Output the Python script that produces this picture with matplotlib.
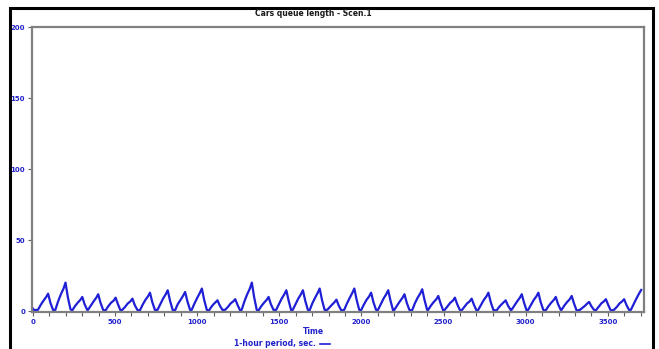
import matplotlib
matplotlib.use("Agg")
import matplotlib.pyplot as plt
from matplotlib.patches import Rectangle
from matplotlib.ticker import MultipleLocator

# ---- data ----
time_s = [
    0, 10, 20,
    31, 48, 65, 81, 93, 107, 123,
    137, 154, 171, 187, 199, 213, 229,
    239, 256, 273, 289, 301, 315, 331,
    336, 353, 370, 386, 398, 412, 428,
    442, 459, 476, 492, 504, 518, 534,
    544, 561, 578, 594, 606, 620, 636,
    651, 668, 685, 701, 713, 727, 743,
    759, 776, 793, 809, 821, 835, 851,
    865, 882, 899, 915, 927, 941, 957,
    967, 984, 1001, 1017, 1029, 1043, 1059,
    1072, 1086, 1100, 1113, 1124, 1138, 1154,
    1170, 1187, 1204, 1220, 1232, 1246, 1262,
    1271, 1288, 1305, 1321, 1333, 1347, 1363,
    1373, 1390, 1407, 1423, 1435, 1449, 1465,
    1481, 1498, 1515, 1531, 1543, 1557, 1573,
    1582, 1599, 1616, 1632, 1644, 1658, 1674,
    1684, 1701, 1718, 1734, 1746, 1760, 1776,
    1792, 1808, 1824, 1837, 1848, 1862, 1878,
    1895, 1912, 1929, 1945, 1957, 1971, 1987,
    1997, 2014, 2031, 2047, 2059, 2073, 2089,
    2101, 2118, 2135, 2151, 2163, 2177, 2193,
    2200, 2217, 2234, 2250, 2262, 2276, 2292,
    2308, 2325, 2342, 2358, 2370, 2384, 2400,
    2406, 2423, 2440, 2456, 2468, 2482, 2498,
    2507, 2524, 2541, 2557, 2569, 2583, 2599,
    2609, 2626, 2643, 2659, 2671, 2685, 2701,
    2711, 2728, 2745, 2761, 2773, 2787, 2803,
    2822, 2838, 2854, 2867, 2878, 2892, 2908,
    2914, 2931, 2948, 2964, 2976, 2990, 3006,
    3015, 3032, 3049, 3065, 3077, 3091, 3107,
    3121, 3138, 3155, 3171, 3183, 3197, 3213,
    3218, 3235, 3252, 3268, 3280, 3294, 3310,
    3330, 3346, 3362, 3375, 3386, 3400, 3416,
    3426, 3443, 3460, 3476, 3488, 3502, 3518,
    3537, 3554, 3571, 3587, 3599, 3613, 3629,
    3640, 3657, 3674, 3690, 3703,
]
queue_len = [
    2, 0.5, 1,
    1, 4.5, 7.5, 10, 12.4, 6, 1,
    1, 7, 12, 16, 20.2, 10, 1.5,
    0.5, 3.5, 6, 8, 10.1, 5, 1,
    1, 4, 7, 9.5, 12, 6, 1,
    0.5, 3.5, 6, 7.5, 9.6, 5, 0.5,
    1, 3, 5.5, 7, 8.9, 4.5, 1,
    0.5, 4.5, 8, 10.5, 13.1, 6.5, 1,
    1, 5, 9, 12, 14.8, 7.5, 1,
    0.5, 5, 8, 11, 13.6, 7, 1,
    1, 5.5, 9.5, 13, 16, 8, 1,
    0.5, 3, 5, 6.5, 7.7, 4, 1,
    1, 3, 5.5, 7, 8.5, 4.5, 0.5,
    1, 7, 12, 16, 20.2, 10, 1,
    0.5, 3.5, 6, 8, 10.1, 5, 1,
    1, 5, 9, 12, 14.8, 7.5, 0.5,
    1, 5, 9, 12, 14.8, 7.5, 1,
    0.5, 5.5, 9.5, 13, 16, 8, 1,
    1, 3, 5, 6.5, 8.2, 4, 0.5,
    1, 5.5, 9.5, 13, 16, 8, 1,
    0.5, 4.5, 8, 10.5, 13.1, 6.5, 1,
    1, 5, 9, 12, 14.8, 7.5, 0.5,
    1, 4, 7, 9.5, 12, 6, 1,
    0.5, 5.5, 9.5, 12.5, 15.5, 8, 1,
    1, 4, 6.5, 8.5, 10.8, 5.5, 0.5,
    1, 3.5, 6, 7.5, 9.6, 5, 1,
    0.5, 3, 5.5, 7, 8.9, 4.5, 0.5,
    1, 4.5, 8, 10.5, 13.1, 6.5, 1,
    0.5, 3, 5, 6.5, 7.7, 4, 1,
    1, 4, 7, 9.5, 12, 6, 0.5,
    1, 4.5, 8, 10.5, 13.1, 6.5, 1,
    0.5, 3.5, 6, 8, 10.1, 5, 1,
    1, 4, 6.5, 8.5, 10.8, 5.5, 0.5,
    1, 2.5, 4, 5.5, 6.6, 3.5, 1,
    0.5, 3, 5.5, 7, 8.5, 4.5, 0.5,
    1, 3, 5.5, 7, 8.5, 4.5, 1,
    1, 5, 9, 12.5, 15,
]
title = "Cars queue length - Scen.1"
x_label = "Time"
series_label = "1-hour period, sec."
y_ticks = [0, 50, 100, 150, 200]
x_ticks = [0, 500, 1000, 1500, 2000, 2500, 3000, 3500]

W, H = 659, 349
fig = plt.figure(figsize=(W / 100, H / 100), dpi=100)
fig.patch.set_facecolor("white")

# outer black frame
fig.patches.append(Rectangle((10 / W, -0.05), (653 - 10) / W, 1.05 - 8 / H,
                             transform=fig.transFigure, fill=False,
                             edgecolor="black", linewidth=2.2))

ax = fig.add_axes([32 / W, 1 - 312 / H, (644 - 32) / W, (312 - 27) / H])
line_color = "#1f1fd6"
blue_txt = "#2222cc"
ax.plot(time_s, queue_len, color=line_color, linewidth=1.6,
        solid_joinstyle="round")

ax.set_xlim(-5, 3720)
ax.set_ylim(-0.5, 200)
for s in ax.spines.values():
    s.set_color("#808080")
    s.set_linewidth(1.6)

ax.set_yticks(y_ticks)
ax.set_yticklabels([str(v) for v in y_ticks])
ax.set_xticks(x_ticks)
ax.set_xticklabels([str(v) for v in x_ticks])
ax.xaxis.set_minor_locator(MultipleLocator(100))
ax.tick_params(axis="both", which="major", labelsize=5, labelcolor=blue_txt,
               color="#606060", length=3, width=0.8, pad=2)
ax.tick_params(axis="x", which="minor", color="#606060", length=3, width=0.8)
for lbl in ax.get_xticklabels() + ax.get_yticklabels():
    lbl.set_fontweight("bold")

fig.text(313 / W, 1 - 14 / H, title, ha="center", va="center",
         fontsize=5.5, fontweight="bold", color="#1a1a1a")
fig.text(313 / W, 1 - 332 / H, x_label, ha="center", va="center",
         fontsize=5.5, fontweight="bold", color=blue_txt)
fig.text(316 / W, 1 - 344 / H, series_label, ha="right", va="center",
         fontsize=5.5, fontweight="bold", color=blue_txt)
fig.add_artist(plt.Line2D([320 / W, 330 / W], [1 - 344 / H, 1 - 344 / H],
                          transform=fig.transFigure, color=line_color,
                          linewidth=1.2))

fig.savefig("out.png", dpi=100, facecolor="white")
